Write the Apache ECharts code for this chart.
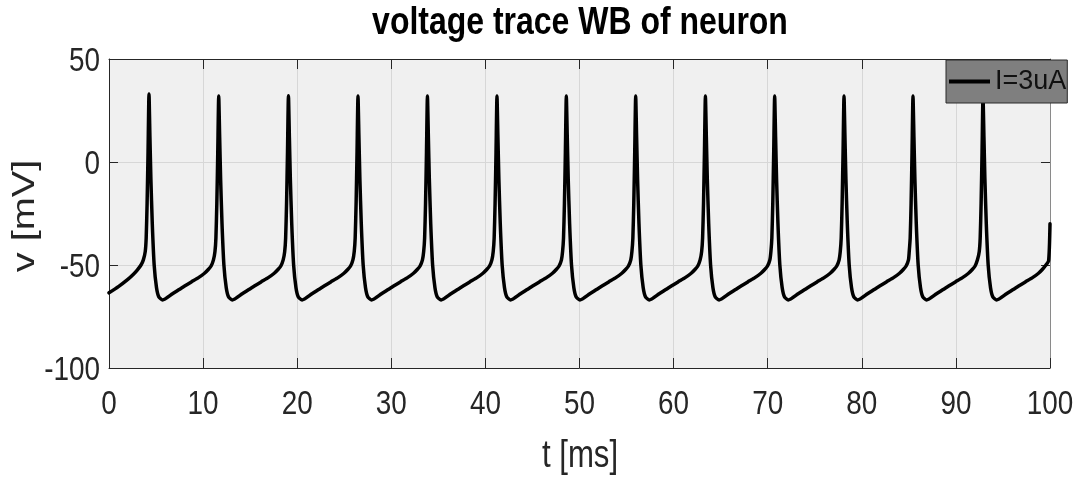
<!DOCTYPE html>
<html>
<head>
<meta charset="utf-8">
<script src="https://cdn.jsdelivr.net/npm/echarts@6/dist/echarts.min.js"></script>
<style>
  html, body { margin: 0; padding: 0; background: #ffffff; }
  #chart { width: 1077px; height: 482px; }
</style>
</head>
<body>
<div id="chart"></div>
<script>
// Peak times (ms) and peak voltages (mV) of each action potential
const spikeTimes = [4.25, 11.66, 19.07, 26.46, 33.84, 41.23, 48.6, 55.97, 63.38, 70.74, 78.11, 85.44, 92.88];
const spikePeaks = [33, 32, 32.2, 32, 32, 32, 32, 32, 32, 32, 32, 32, 32];

// One cycle of the membrane potential around a spike: time offset from the peak (ms) and voltage (mV)
const cycleOffsets = [-0.4, -0.3, -0.2, -0.1, 0, 0.1, 0.2, 0.35, 0.55, 0.8, 1.05, 1.45, 2.5, 3.5, 4.5, 5.3, 5.9, 6.3, 6.6, 6.85];
const cycleVoltages = [-43.5, -37, -20, 5, null, 12, -8, -30, -50, -61, -65.5, -67, -64, -61, -58.2, -56, -54, -52.2, -50.5, -47.5];

// Start of the trace before the first spike, and its end after the last one
const leadIn = [[0, -63.5], [1, -60.5], [2, -57], [2.6, -54.5], [3.0, -52.5], [3.4, -50], [3.65, -47.5]];
const leadOut = [[99.85, -48], [100, -30]];

const xTicks = [0, 10, 20, 30, 40, 50, 60, 70, 80, 90, 100];
const yTicks = [-100, -50, 0, 50];

const titleText = 'voltage trace WB of neuron';
const xName = 't [ms]';
const yName = 'v [mV]';
const seriesName = 'I=3uA';

// Assemble the [t, v] table for the line series
const trace = leadIn.slice();
spikeTimes.forEach((tp, i) => {
  const last = i === spikeTimes.length - 1;
  cycleOffsets.forEach((off, k) => {
    if (last && off > 6.6) return;
    const v = cycleVoltages[k] === null ? spikePeaks[i] : cycleVoltages[k];
    trace.push([+(tp + off).toFixed(3), v]);
  });
});
leadOut.forEach(p => trace.push(p));

const sans = "'Liberation Sans', Arial, Helvetica, sans-serif";
const axisColor = '#262626';
const textColor = '#262626';
const condense = 0.82;   // horizontal squeeze of the narrow lettering

const chart = echarts.init(document.getElementById('chart'), null, { renderer: 'canvas' });
chart.setOption({
  animation: false,
  backgroundColor: '#ffffff',
  grid: {
    left: 109, right: 27, top: 59, bottom: 114,
    containLabel: false, outerBoundsMode: 'none',
    show: true, backgroundColor: '#f0f0f0', borderWidth: 0
  },
  legend: {
    left: 946, top: 60,
    padding: [8, 1, 8, 3],
    backgroundColor: '#7f7f7f',
    borderColor: '#2a2a2a', borderWidth: 1, borderRadius: 0,
    icon: 'rect', itemWidth: 41, itemHeight: 4,
    textStyle: { fontFamily: sans, fontSize: 27, color: '#111111' },
    data: [seriesName]
  },
  xAxis: [{
    type: 'value', min: 0, max: 100, interval: 10,
    axisLine: { show: true, onZero: false, lineStyle: { color: axisColor, width: 1 } },
    axisTick: { show: true, inside: true, length: 10, lineStyle: { color: axisColor } },
    axisLabel: { show: false },
    splitLine: { show: true, lineStyle: { color: '#d7d7d7', width: 1 } }
  }, {
    type: 'value', position: 'top', min: 0, max: 100, interval: 10,
    axisLine: { show: true, onZero: false, lineStyle: { color: axisColor, width: 1 } },
    axisTick: { show: true, inside: true, length: 10, lineStyle: { color: axisColor } },
    axisLabel: { show: false }, splitLine: { show: false }
  }],
  yAxis: [{
    type: 'value', min: -100, max: 50, interval: 50,
    axisLine: { show: true, onZero: false, lineStyle: { color: axisColor, width: 1 } },
    axisTick: { show: true, inside: true, length: 9, lineStyle: { color: axisColor } },
    axisLabel: { show: false },
    splitLine: { show: true, lineStyle: { color: '#d7d7d7', width: 1 } }
  }, {
    type: 'value', position: 'right', min: -100, max: 50, interval: 50,
    axisLine: { show: true, onZero: false, lineStyle: { color: '#8a8a8a', width: 1 } },
    axisTick: { show: true, inside: true, length: 9, lineStyle: { color: axisColor } },
    axisLabel: { show: false }, splitLine: { show: false }
  }],
  series: [{
    name: seriesName,
    type: 'line',
    data: trace,
    showSymbol: false,
    symbol: 'none',
    smooth: 0.2,
    lineStyle: { color: '#000000', width: 3.5, join: 'round', cap: 'round' },
    itemStyle: { color: '#000000' },
    z: 2
  }]
});

// Narrow lettering: tick labels, axis names and title drawn as condensed text
function label(text, x, y, opts) {
  return {
    type: 'text', x: x, y: y,
    scaleX: opts.scaleX || condense,
    rotation: opts.rotation || 0,
    silent: true, z: 100,
    style: {
      text: text,
      fill: opts.fill || textColor,
      font: (opts.weight || 'normal') + ' ' + opts.size + 'px ' + sans,
      align: opts.align || 'center',
      verticalAlign: 'middle'
    }
  };
}

const xAxisY = chart.convertToPixel({ yAxisIndex: 0 }, -100);
const yAxisX = chart.convertToPixel({ xAxisIndex: 0 }, 0);
const graphics = [];
xTicks.forEach(v => {
  graphics.push(label(String(v), chart.convertToPixel({ xAxisIndex: 0 }, v), xAxisY + 37, { size: 34 }));
});
yTicks.forEach(v => {
  graphics.push(label(String(v), yAxisX - 9, chart.convertToPixel({ yAxisIndex: 0 }, v) + 3, { size: 34, align: 'right' }));
});
graphics.push(label(xName, 580, 457, { size: 38 }));
graphics.push(label(yName, 25, 216, { size: 31, scaleX: 1.28, rotation: Math.PI / 2 }));
graphics.push(label(titleText, 580, 23, { size: 39, weight: 'bold', fill: '#000000' }));

chart.setOption({ graphic: graphics });
</script>
</body>
</html>
